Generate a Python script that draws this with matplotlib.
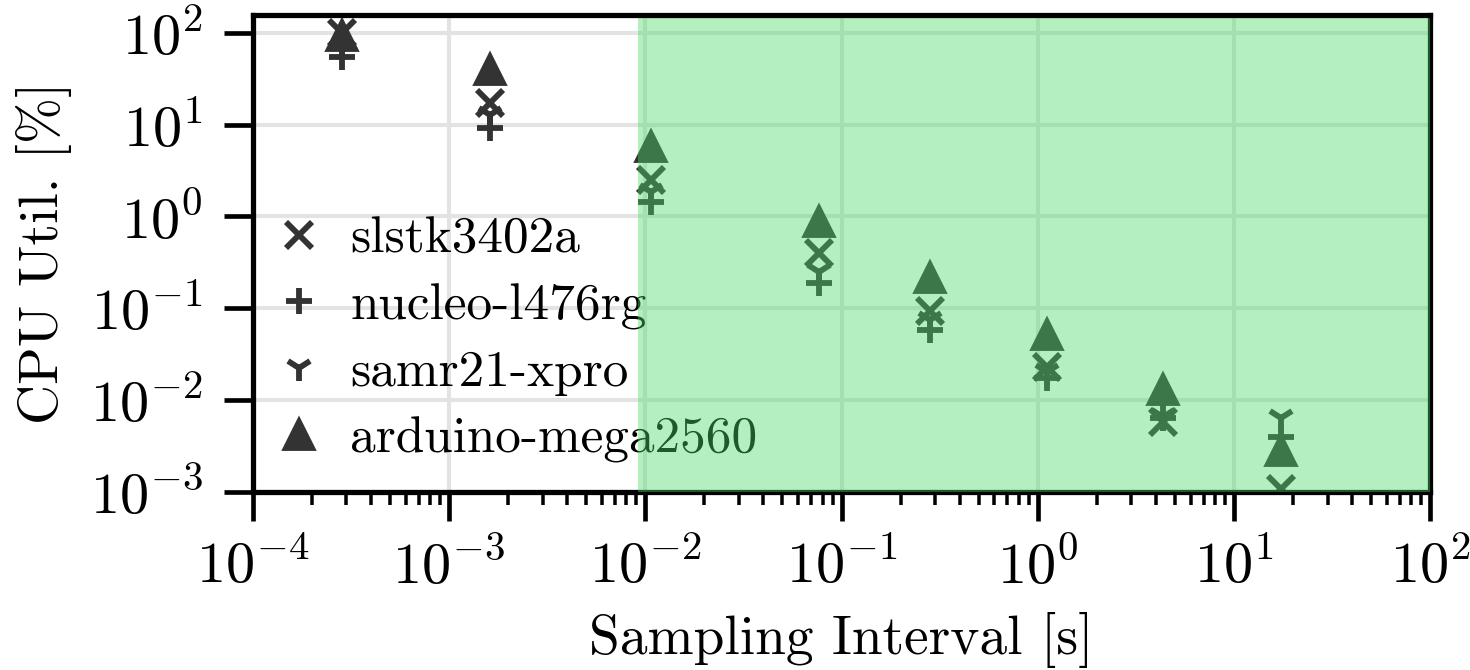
import matplotlib
matplotlib.use('Agg')
import matplotlib.pyplot as plt
from matplotlib.ticker import LogLocator, NullLocator

plt.rcParams['font.family'] = 'serif'
plt.rcParams['font.serif'] = ['cmr10']
plt.rcParams['mathtext.fontset'] = 'cm'
plt.rcParams['axes.formatter.use_mathtext'] = True
plt.rcParams['axes.unicode_minus'] = False
plt.rcParams['font.size'] = 8

# sampling intervals [s]
intervals = [2.84e-4, 1.62e-3, 1.07e-2, 7.64e-2, 0.281, 1.11, 4.34, 17.4]

# CPU utilisation [%] per board
slstk3402a = [100, 17.0, 2.5, 0.40, 0.092, 0.023, 0.0058, 0.00108]
nucleo_l476rg = [54, 9.2, 1.44, 0.19, 0.058, 0.0174, 0.0064, 0.0040]
samr21_xpro = [70, 12.8, 1.85, 0.25, 0.075, 0.020, 0.0066, 0.0063]
arduino_mega2560 = [93, 39.5, 5.7, 0.87, 0.214, 0.051, 0.0128, 0.0028]

boards = ['slstk3402a', 'nucleo-l476rg', 'samr21-xpro', 'arduino-mega2560']
series = [slstk3402a, nucleo_l476rg, samr21_xpro, arduino_mega2560]
markers = ['x', '+', '1', '^']

# region where the sampling is considered fine
region_start = 9.2e-3
region_end = 100

fig = plt.figure(figsize=(3.5, 670 / 420), dpi=420)
ax = fig.add_axes([0.172, 0.266, 0.801, 0.712])

for name, vals, m in zip(boards, series, markers):
    ax.plot(intervals, vals, linestyle='none', marker=m, color='#333333',
            markersize=4.6, markeredgewidth=1.0, label=name, zorder=2)

ax.set_xscale('log')
ax.set_yscale('log')
ax.set_xlim(1e-4, 1e2)
ax.set_ylim(1e-3, 157)

ax.xaxis.set_major_locator(LogLocator(base=10, numticks=10))
ax.xaxis.set_minor_locator(LogLocator(base=10, subs=range(2, 10), numticks=10))
ax.yaxis.set_major_locator(LogLocator(base=10, numticks=10))
ax.yaxis.set_minor_locator(NullLocator())

ax.grid(True, which='major', color='#e3e3e3', linewidth=0.7, zorder=0)
ax.set_axisbelow(True)

ax.tick_params(axis='x', which='major', length=5, width=0.8, pad=3, labelsize=10)
ax.tick_params(axis='x', which='minor', length=2.2, width=0.6)
ax.tick_params(axis='y', which='major', length=5, width=0.8, pad=3.5, labelsize=10)
for sp in ax.spines.values():
    sp.set_linewidth(0.9)

ax.set_xlabel('Sampling Interval [s]', labelpad=3, fontsize=9.5)
ax.set_ylabel('CPU Util. [%]', labelpad=3, fontsize=9.5)

leg = ax.legend(loc='lower left', bbox_to_anchor=(-0.013, -0.005), frameon=False,
                handletextpad=0.4, labelspacing=0.4, borderaxespad=0.2,
                handlelength=1.2, fontsize=8.8)
leg.set_zorder(2.6)

ax.axvspan(region_start, region_end, color='#4ada65', alpha=0.41,
           linewidth=0, zorder=3)
ax.spines['top'].set_zorder(4)

fig.savefig('out.png', dpi=420)
